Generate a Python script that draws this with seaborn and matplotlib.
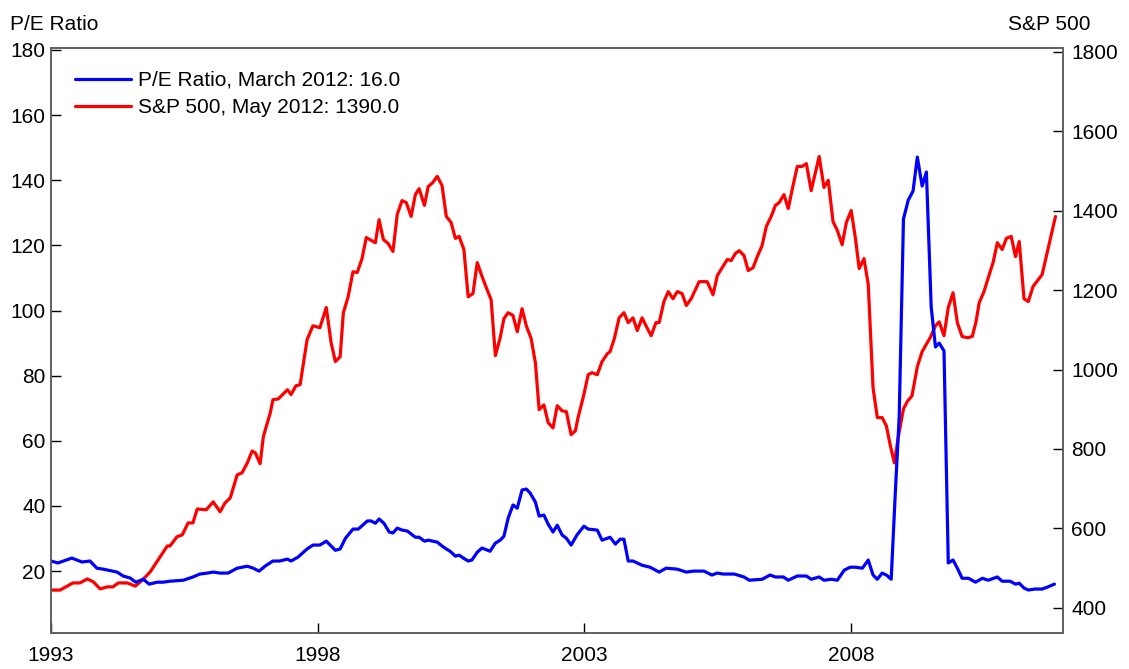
import numpy as np
import pandas as pd
import seaborn as sns
import matplotlib
matplotlib.use("Agg")
import matplotlib.pyplot as plt

# S&P 500 (right axis)
sp_years = [1993.00, 1993.17, 1993.41, 1993.54, 1993.68, 1993.79, 1993.92, 1994.05, 1994.16, 1994.26,
            1994.43, 1994.58, 1994.71, 1994.86, 1995.18, 1995.23, 1995.36, 1995.46, 1995.57, 1995.66,
            1995.74, 1995.91, 1996.04, 1996.17, 1996.26, 1996.36, 1996.49, 1996.58, 1996.68, 1996.77,
            1996.83, 1996.92, 1996.98, 1997.11, 1997.16, 1997.26, 1997.43, 1997.50, 1997.59, 1997.67,
            1997.80, 1997.91, 1998.04, 1998.16, 1998.25, 1998.33, 1998.42, 1998.48, 1998.57, 1998.66,
            1998.74, 1998.83, 1998.91, 1999.08, 1999.15, 1999.23, 1999.32, 1999.41, 1999.49, 1999.58,
            1999.66, 1999.75, 1999.83, 1999.90, 2000.00, 2000.07, 2000.16, 2000.24, 2000.33, 2000.41,
            2000.50, 2000.58, 2000.65, 2000.74, 2000.82, 2000.91, 2000.99, 2001.08, 2001.18, 2001.25,
            2001.33, 2001.42, 2001.49, 2001.57, 2001.66, 2001.74, 2001.83, 2001.91, 2002.00, 2002.08,
            2002.15, 2002.24, 2002.32, 2002.41, 2002.49, 2002.58, 2002.66, 2002.75, 2002.83, 2002.88,
            2002.98, 2003.07, 2003.14, 2003.24, 2003.33, 2003.43, 2003.48, 2003.56, 2003.65, 2003.74,
            2003.82, 2003.91, 2003.99, 2004.08, 2004.18, 2004.25, 2004.34, 2004.40, 2004.49, 2004.57,
            2004.66, 2004.74, 2004.83, 2004.91, 2005.00, 2005.08, 2005.15, 2005.30, 2005.41, 2005.49,
            2005.58, 2005.68, 2005.75, 2005.83, 2005.90, 2005.99, 2006.07, 2006.16, 2006.24, 2006.33,
            2006.41, 2006.50, 2006.58, 2006.65, 2006.74, 2006.82, 2006.91, 2006.99, 2007.08, 2007.16,
            2007.25, 2007.33, 2007.40, 2007.49, 2007.57, 2007.66, 2007.74, 2007.83, 2007.91, 2008.00,
            2008.08, 2008.15, 2008.24, 2008.32, 2008.41, 2008.49, 2008.58, 2008.66, 2008.73, 2008.81,
            2008.88, 2008.98, 2009.05, 2009.14, 2009.24, 2009.33, 2009.48, 2009.58, 2009.65, 2009.74,
            2009.82, 2009.91, 2009.99, 2010.08, 2010.18, 2010.27, 2010.34, 2010.40, 2010.49, 2010.57,
            2010.66, 2010.74, 2010.83, 2010.91, 2011.00, 2011.08, 2011.15, 2011.24, 2011.32, 2011.41,
            2011.58, 2011.73, 2011.83]
sp_values = [445, 445, 463, 463, 473, 466, 448, 453, 453, 463,
             463, 455, 470, 491, 556, 556, 579, 584, 614, 614,
             649, 647, 667, 642, 664, 677, 735, 740, 765, 795,
             790, 763, 831, 891, 924, 926, 949, 937, 959, 962,
             1075, 1110, 1105, 1156, 1068, 1020, 1032, 1143, 1183, 1246,
             1244, 1279, 1332, 1319, 1377, 1327, 1317, 1297, 1390, 1425,
             1420, 1385, 1440, 1455, 1413, 1460, 1471, 1486, 1463, 1385,
             1370, 1330, 1335, 1302, 1183, 1191, 1269, 1234, 1199, 1176,
             1035, 1080, 1128, 1143, 1136, 1095, 1153, 1110, 1078, 1017,
             899, 911, 866, 853, 909, 896, 894, 836, 846, 879,
             932, 987, 992, 987, 1020, 1040, 1045, 1078, 1130, 1143,
             1118, 1130, 1098, 1130, 1103, 1085, 1118, 1118, 1171, 1196,
             1178, 1196, 1191, 1161, 1178, 1201, 1221, 1221, 1188, 1236,
             1256, 1277, 1274, 1292, 1299, 1287, 1249, 1256, 1284, 1312,
             1360, 1385, 1413, 1420, 1440, 1405, 1463, 1511, 1511, 1518,
             1450, 1496, 1536, 1458, 1476, 1372, 1350, 1314, 1370, 1400,
             1330, 1254, 1279, 1214, 954, 879, 879, 858, 811, 765,
             828, 901, 919, 934, 1007, 1045, 1080, 1110, 1120, 1085,
             1156, 1193, 1118, 1083, 1080, 1083, 1120, 1168, 1196, 1231,
             1269, 1319, 1302, 1330, 1335, 1284, 1322, 1178, 1171, 1209,
             1239, 1327, 1385]

# P/E ratio (left axis)
pe_years = [1993.00, 1993.13, 1993.39, 1993.58, 1993.73, 1993.86, 1993.98, 1994.24, 1994.35, 1994.48,
            1994.59, 1994.73, 1994.84, 1994.99, 1995.10, 1995.23, 1995.48, 1995.66, 1995.79, 1995.93,
            1996.04, 1996.17, 1996.32, 1996.49, 1996.68, 1996.79, 1996.90, 1997.01, 1997.16, 1997.29,
            1997.43, 1997.50, 1997.63, 1997.80, 1997.91, 1998.04, 1998.16, 1998.25, 1998.33, 1998.42,
            1998.52, 1998.66, 1998.76, 1998.93, 1999.00, 1999.08, 1999.15, 1999.24, 1999.34, 1999.41,
            1999.49, 1999.58, 1999.68, 1999.83, 1999.90, 2000.00, 2000.07, 2000.24, 2000.33, 2000.41,
            2000.48, 2000.58, 2000.65, 2000.73, 2000.82, 2000.89, 2000.99, 2001.08, 2001.23, 2001.33,
            2001.42, 2001.49, 2001.57, 2001.66, 2001.74, 2001.83, 2001.91, 2001.98, 2002.08, 2002.15,
            2002.24, 2002.32, 2002.41, 2002.49, 2002.58, 2002.66, 2002.75, 2002.86, 2002.99, 2003.07,
            2003.24, 2003.33, 2003.48, 2003.58, 2003.67, 2003.74, 2003.82, 2003.91, 2004.08, 2004.23,
            2004.40, 2004.53, 2004.74, 2004.91, 2005.04, 2005.24, 2005.39, 2005.49, 2005.60, 2005.81,
            2005.99, 2006.09, 2006.33, 2006.48, 2006.58, 2006.73, 2006.82, 2006.99, 2007.16, 2007.25,
            2007.40, 2007.49, 2007.63, 2007.74, 2007.87, 2007.98, 2008.08, 2008.21, 2008.32, 2008.41,
            2008.49, 2008.58, 2008.66, 2008.75, 2008.83, 2008.90, 2008.98, 2009.07, 2009.16, 2009.24,
            2009.33, 2009.41, 2009.50, 2009.58, 2009.65, 2009.74, 2009.82, 2009.91, 2009.99, 2010.08,
            2010.20, 2010.33, 2010.46, 2010.57, 2010.74, 2010.83, 2010.98, 2011.08, 2011.15, 2011.24,
            2011.32, 2011.45, 2011.58, 2011.68, 2011.81]
pe_values = [23.1, 22.5, 24.0, 22.8, 23.1, 20.9, 20.6, 19.7, 18.5, 17.9,
             16.6, 17.5, 16.0, 16.6, 16.6, 16.9, 17.2, 18.2, 19.1, 19.4,
             19.7, 19.4, 19.4, 20.9, 21.5, 20.9, 20.0, 21.5, 23.1, 23.1,
             23.7, 23.1, 24.3, 26.8, 28.0, 28.0, 29.2, 27.7, 26.4, 26.8,
             30.1, 32.9, 32.9, 35.4, 35.4, 34.7, 36.0, 34.7, 32.0, 31.7,
             33.2, 32.6, 32.3, 30.4, 30.4, 29.2, 29.5, 28.9, 27.7, 26.8,
             26.1, 24.6, 24.9, 24.0, 23.1, 23.4, 25.8, 27.1, 26.1, 28.6,
             29.5, 30.7, 36.3, 40.3, 39.3, 44.9, 45.2, 44.0, 41.2, 36.9,
             37.2, 34.4, 32.0, 34.1, 31.1, 30.1, 28.0, 31.1, 33.8, 32.9,
             32.6, 29.5, 30.4, 28.3, 29.8, 29.8, 23.1, 23.1, 21.8, 21.2,
             19.7, 20.9, 20.6, 19.7, 20.0, 20.0, 18.8, 19.4, 19.1, 19.1,
             18.2, 17.2, 17.5, 18.8, 18.2, 18.2, 17.2, 18.5, 18.5, 17.5,
             18.2, 17.2, 17.5, 17.2, 20.3, 21.2, 21.2, 20.9, 23.4, 18.8,
             17.5, 19.4, 18.8, 17.5, 45.0, 67.3, 128.1, 133.9, 136.7, 147.1,
             138.2, 142.5, 101.1, 88.8, 90.0, 87.6, 22.5, 23.4, 20.9, 17.8,
             17.8, 16.6, 17.8, 17.2, 18.2, 16.9, 16.9, 16.0, 16.3, 14.8,
             14.2, 14.5, 14.5, 15.1, 16.0]

x_ticks = [1993, 1998, 2003, 2008]
pe_ticks = [20, 40, 60, 80, 100, 120, 140, 160, 180]
sp_ticks = [400, 600, 800, 1000, 1200, 1400, 1600, 1800]

pe_label = "P/E Ratio, March 2012: 16.0"
sp_label = "S&P 500, May 2012: 1390.0"

pe_df = pd.DataFrame({"year": pe_years, "value": pe_values})
sp_df = pd.DataFrame({"year": sp_years, "value": sp_values})

sns.set_style("ticks")
plt.rcParams["font.family"] = ["Liberation Sans", "DejaVu Sans"]
plt.rcParams["text.color"] = "black"
fs = 15

fig = plt.figure(figsize=(11.29, 6.69), dpi=100)
ax = fig.add_axes([0.0452, 0.0538, 0.8963, 0.8745])
ax2 = ax.twinx()

sns.lineplot(data=sp_df, x="year", y="value", ax=ax2, color="#ff0000", linewidth=2.3, label=sp_label, legend=False)
sns.lineplot(data=pe_df, x="year", y="value", ax=ax, color="#0000ff", linewidth=2.3, label=pe_label, legend=False)

# blue line drawn over red like the original
ax.set_zorder(ax2.get_zorder() + 1)
ax.patch.set_visible(False)

ax.set_xlim(1993, 2011.97)
ax.set_ylim(1.0, 180.6)
ax2.set_ylim(337, 1809)
ax.set_xticks(x_ticks)
ax.set_yticks(pe_ticks)
ax2.set_yticks(sp_ticks)
ax.set_xlabel("")
ax.set_ylabel("")
ax2.set_ylabel("")

for a in (ax, ax2):
    a.tick_params(direction="in", length=7, width=1, colors="black", labelsize=fs, pad=6)
    for s in a.spines.values():
        s.set_visible(True)
        s.set_color("#606060")
        s.set_linewidth(1.2)
ax.tick_params(axis="x", pad=9)
ax.tick_params(axis="y", pad=4)

fig.text(0.009, 0.955, "P/E Ratio", fontsize=fs, ha="left", va="baseline", color="black")
fig.text(0.966, 0.955, "S&P 500", fontsize=fs, ha="right", va="baseline", color="black")

h1, l1 = ax.get_legend_handles_labels()
h2, l2 = ax2.get_legend_handles_labels()
leg = ax.legend(h1 + h2, l1 + l2, loc="upper left", frameon=False, fontsize=fs,
                handlelength=2.65, handletextpad=0.34, labelspacing=0.4,
                borderaxespad=0.0, bbox_to_anchor=(0.0158, 0.975))
for t in leg.get_texts():
    t.set_color("black")

fig.savefig("out.png", dpi=100)
